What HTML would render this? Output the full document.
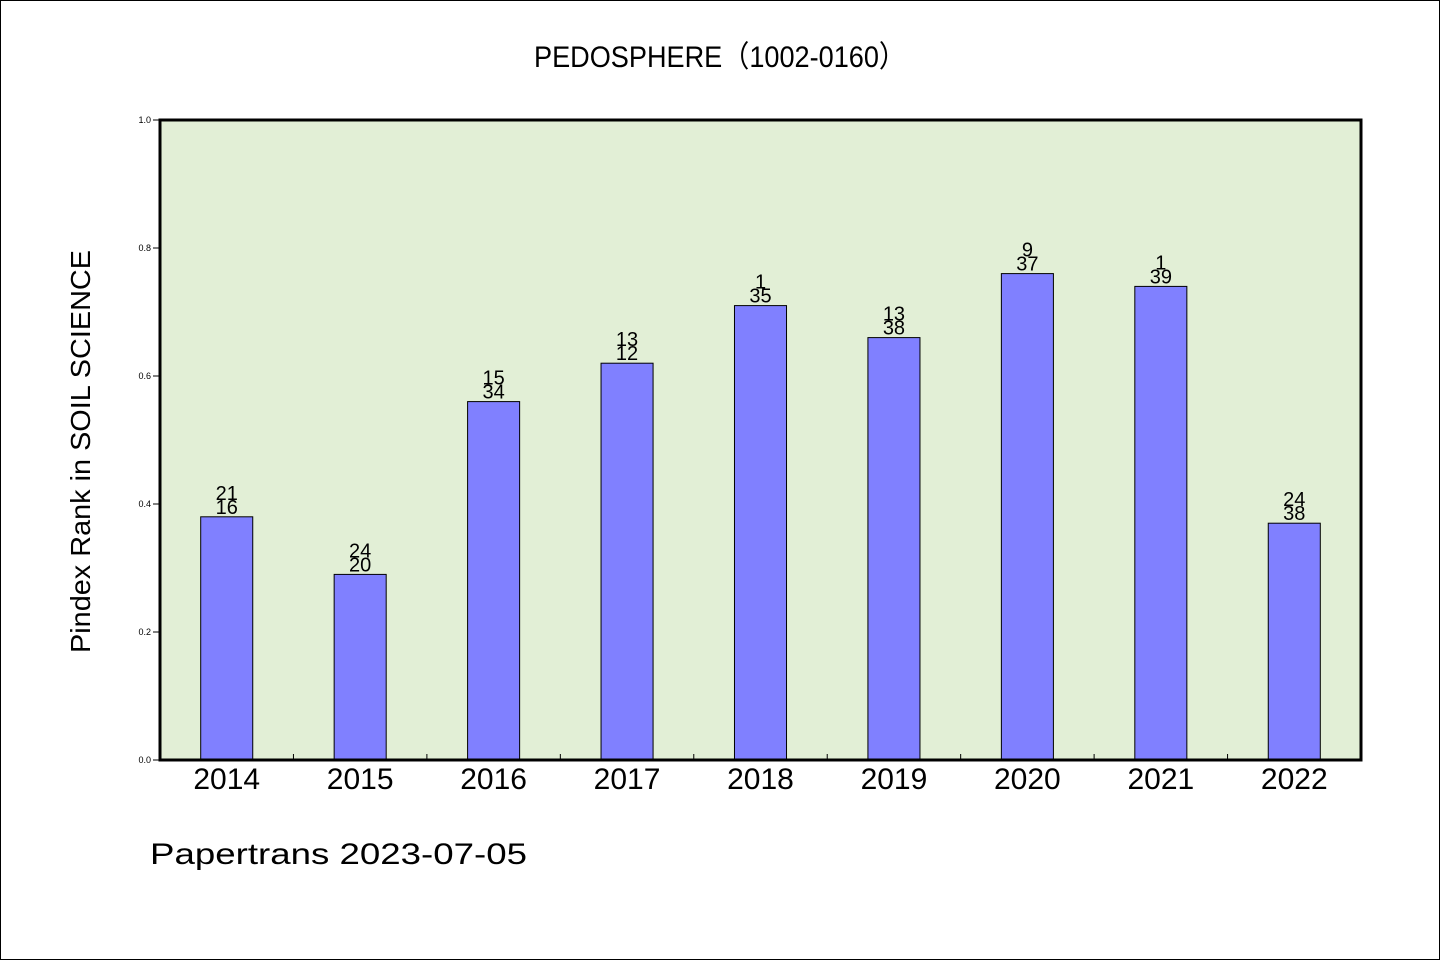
<!DOCTYPE html>
<html><head><meta charset="utf-8"><style>
html,body{margin:0;padding:0;background:#fff}
svg{display:block}
text{font-family:"WenQuanYi Zen Hei Mono","WenQuanYi Zen Hei","Liberation Sans",sans-serif;fill:#000}
</style></head><body>
<svg id="chart" width="1440" height="960" viewBox="0 0 1440 960" xmlns="http://www.w3.org/2000/svg">
<rect x="0.5" y="0.5" width="1439" height="959" fill="#fff" stroke="#000" stroke-width="1"/>
<text x="534" y="67" font-size="30" textLength="372" lengthAdjust="spacingAndGlyphs">PEDOSPHERE（1002-0160）</text>
<rect x="160" y="120" width="1201" height="640" fill="#e2efd6"/>
<g id="bars"></g>
<g id="yaxis"></g>
<g id="xaxis"></g>
<rect x="160" y="120" width="1201" height="640" fill="none" stroke="#000" stroke-width="3"/>
<text transform="translate(90,653) rotate(-90)" font-size="28" textLength="403" lengthAdjust="spacingAndGlyphs">Pindex Rank in SOIL SCIENCE</text>
<text x="150" y="864" font-size="30" textLength="377" lengthAdjust="spacingAndGlyphs">Papertrans 2023-07-05</text>
</svg>
<script>
const years = ["2014","2015","2016","2017","2018","2019","2020","2021","2022"];
const pindex = [0.38,0.29,0.56,0.62,0.71,0.66,0.76,0.74,0.37];
const topRank = ["21","24","15","13","1","13","9","1","24"];
const bottomRank = ["16","20","34","12","35","38","37","39","38"];
const yTicks = [0,0.2,0.4,0.6,0.8,1.0];
const yTickLabels = ["0.0","0.2","0.4","0.6","0.8","1.0"];

const NS="http://www.w3.org/2000/svg";
const X0=160,X1=1361,Y0=760,Y1=120;
const band=(X1-X0)/years.length;
const xc=i=>X0+band*(i+0.5);
const ys=v=>Y0-(v)*(Y0-Y1);
function mk(tag,attrs,parent){const e=document.createElementNS(NS,tag);for(const k in attrs)e.setAttribute(k,attrs[k]);parent.appendChild(e);return e;}
const gb=document.getElementById('bars'),gy=document.getElementById('yaxis'),gx=document.getElementById('xaxis');
const bw=band*0.39;
years.forEach((yr,i)=>{
  const top=ys(pindex[i]);
  const r=mk('rect',{x:xc(i)-bw/2,y:top,width:bw,height:Y0-top,fill:'#8080ff',stroke:'#000','stroke-width':1},gb);
  
  
  const t1=mk('text',{x:xc(i),y:top-17,'font-size':20,'text-anchor':'middle'},gb);
  t1.textContent=topRank[i];
  
  
  const t2=mk('text',{x:xc(i),y:top-3,'font-size':20,'text-anchor':'middle'},gb);
  t2.textContent=bottomRank[i];
  
  
  const xl=mk('text',{x:xc(i),y:789,'font-size':30,'text-anchor':'middle'},gx);
  xl.textContent=yr;
  
  
  if(i>0){
    const tk=mk('line',{x1:X0+band*i,x2:X0+band*i,y1:Y0,y2:Y0-6,stroke:'#000','stroke-width':1},gx);
    
    
  }
});
yTicks.forEach((v,i)=>{
  const y=ys(v);
  const tk=mk('line',{x1:X0-7,x2:X0,y1:y,y2:y,stroke:'#000','stroke-width':1},gy);
  
  
  const tl=mk('text',{x:X0-9,y:y+3,'font-size':9,'text-anchor':'end'},gy);
  tl.textContent=yTickLabels[i];
  
  
});
</script>
</body></html>
